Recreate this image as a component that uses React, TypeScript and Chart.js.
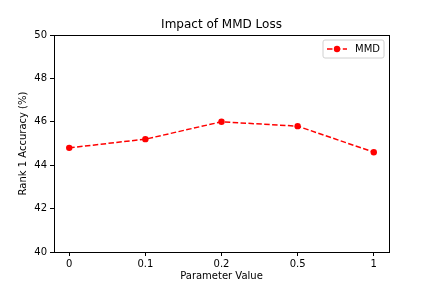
import React, { useEffect, useRef } from "react";
import { Chart, registerables } from "chart.js";

Chart.register(...registerables);

const categories = ["0", "0.1", "0.2", "0.5", "1"];
const mmdValues = [44.8, 45.2, 46.0, 45.8, 44.6];
const seriesLabel = "MMD";
const chartTitle = "Impact of MMD Loss";
const xTitle = "Parameter Value";
const yTitle = "Rank 1 Accuracy (%)";
const yMin = 40;
const yMax = 50;
const yStep = 2;

const FONT = "'DejaVu Sans', sans-serif";
const RED = "#ff0000";

const framePlugin = {
  id: "frame",
  afterDatasetsDraw(chart: any) {
    const { ctx, chartArea } = chart;
    ctx.save();
    ctx.strokeStyle = "#000";
    ctx.lineWidth = 1;
    ctx.strokeRect(
      Math.round(chartArea.left) + 0.5,
      Math.round(chartArea.top) + 0.5,
      Math.round(chartArea.right - chartArea.left),
      Math.round(chartArea.bottom - chartArea.top)
    );
    ctx.fillStyle = "#000";
    ctx.font = `12px ${FONT}`;
    ctx.textAlign = "center";
    ctx.textBaseline = "middle";
    ctx.fillText(chartTitle, (chartArea.left + chartArea.right) / 2, 25);
    ctx.restore();
  },
};

const legendPlugin = {
  id: "boxLegend",
  afterDraw(chart: any) {
    const { ctx, chartArea } = chart;
    const w = 61;
    const h = 18;
    const x = chartArea.right - 5 - w;
    const y = chartArea.top + 5;
    ctx.save();
    ctx.fillStyle = "rgba(255,255,255,0.8)";
    ctx.strokeStyle = "#d0d0d0";
    ctx.lineWidth = 1;
    const r = 2;
    ctx.beginPath();
    ctx.moveTo(x + r, y);
    ctx.lineTo(x + w - r, y);
    ctx.quadraticCurveTo(x + w, y, x + w, y + r);
    ctx.lineTo(x + w, y + h - r);
    ctx.quadraticCurveTo(x + w, y + h, x + w - r, y + h);
    ctx.lineTo(x + r, y + h);
    ctx.quadraticCurveTo(x, y + h, x, y + h - r);
    ctx.lineTo(x, y + r);
    ctx.quadraticCurveTo(x, y, x + r, y);
    ctx.closePath();
    ctx.fill();
    ctx.stroke();
    const cy = y + h / 2;
    ctx.strokeStyle = RED;
    ctx.lineWidth = 1.5;
    ctx.setLineDash([5.5, 2.4]);
    ctx.beginPath();
    ctx.moveTo(x + 4, cy);
    ctx.lineTo(x + 24, cy);
    ctx.stroke();
    ctx.setLineDash([]);
    ctx.fillStyle = RED;
    ctx.beginPath();
    ctx.arc(x + 14, cy, 3.2, 0, Math.PI * 2);
    ctx.fill();
    ctx.fillStyle = "#000";
    ctx.font = `10px ${FONT}`;
    ctx.textBaseline = "middle";
    ctx.textAlign = "left";
    ctx.fillText(seriesLabel, x + 32, cy);
    ctx.restore();
  },
};

export default function App() {
  const ref = useRef<HTMLCanvasElement | null>(null);
  useEffect(() => {
    if (!ref.current) return;
    const chart = new Chart(ref.current, {
      type: "line",
      data: {
        datasets: [
          {
            label: seriesLabel,
            data: mmdValues.map((v, i) => ({ x: i, y: v })),
            borderColor: RED,
            backgroundColor: RED,
            borderWidth: 1.5,
            borderDash: [5.5, 2.4],
            pointRadius: 3.2,
            pointHoverRadius: 3.2,
            pointBorderWidth: 0,
            pointBackgroundColor: RED,
            tension: 0,
          },
        ],
      },
      options: {
        responsive: false,
        animation: false,
        devicePixelRatio: 1,
        layout: { padding: { left: 0, right: 43, top: 35, bottom: 0 } },
        plugins: {
          legend: { display: false },
          tooltip: { enabled: false },
          title: { display: false },
        },
        scales: {
          x: {
            type: "linear",
            min: -0.2,
            max: categories.length - 1 + 0.2,
            afterBuildTicks(scale: any) {
              scale.ticks = categories.map((_, i) => ({ value: i }));
            },
            afterFit(scale: any) {
              scale.height = 36;
            },
            ticks: {
              color: "#000",
              font: { family: FONT, size: 10 },
              padding: 2,
              maxRotation: 0,
              autoSkip: false,
              callback: (v: any) => categories[Number(v)] ?? "",
            },
            grid: {
              display: true,
              drawOnChartArea: false,
              drawTicks: true,
              tickLength: 4,
              color: "#000",
            },
            border: { display: true, color: "#000", width: 1 },
            title: {
              display: true,
              text: xTitle,
              color: "#000",
              font: { family: FONT, size: 10 },
              padding: { top: 0, bottom: 5.5 },
            },
          },
          y: {
            type: "linear",
            min: yMin,
            max: yMax,
            afterFit(scale: any) {
              scale.width = 54;
            },
            ticks: {
              stepSize: yStep,
              color: "#000",
              font: { family: FONT, size: 10 },
              padding: 3,
            },
            grid: {
              display: true,
              drawOnChartArea: false,
              drawTicks: true,
              tickLength: 4,
              color: "#000",
            },
            border: { display: true, color: "#000", width: 1 },
            title: {
              display: true,
              text: yTitle,
              color: "#000",
              font: { family: FONT, size: 10 },
              padding: { top: 17, bottom: 0 },
            },
          },
        },
      },
      plugins: [framePlugin, legendPlugin],
    } as any);
    return () => chart.destroy();
  }, []);
  return (
    <div style={{ position: "absolute", left: 0, top: 0, width: 432, height: 288, background: "#fff" }}>
      <canvas ref={ref} width={432} height={288} style={{ width: 432, height: 288, display: "block" }} />
    </div>
  );
}
